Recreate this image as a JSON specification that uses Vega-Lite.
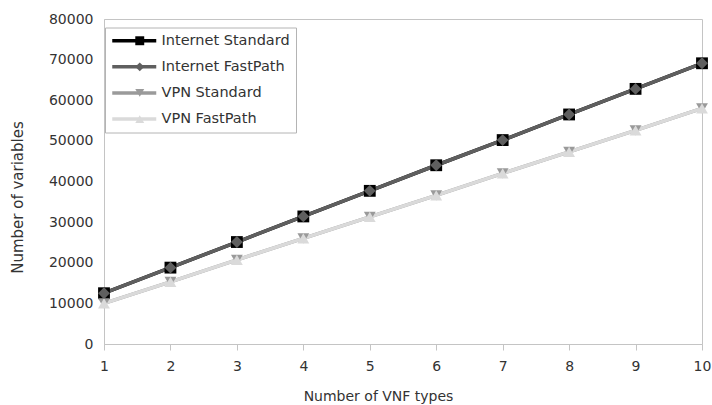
{
  "$schema": "https://vega.github.io/schema/vega-lite/v6.json",
  "width": 598,
  "height": 325,
  "autosize": {"type": "none"},
  "padding": {"left": 104, "top": 19, "right": 10, "bottom": 61},
  "background": "white",
  "config": {
    "font": "DejaVu Sans",
    "view": {"stroke": "#c4c4c4", "strokeWidth": 1}
  },
  "data": {
    "values": [
      {"series": "Internet Standard", "line": "Internet Standard", "vnf": 1, "vars": 12500},
      {"series": "Internet Standard", "line": "Internet Standard", "vnf": 2, "vars": 18800},
      {"series": "Internet Standard", "line": "Internet Standard", "vnf": 3, "vars": 25100},
      {"series": "Internet Standard", "line": "Internet Standard", "vnf": 4, "vars": 31400},
      {"series": "Internet Standard", "line": "Internet Standard", "vnf": 5, "vars": 37700},
      {"series": "Internet Standard", "line": "Internet Standard", "vnf": 6, "vars": 44000},
      {"series": "Internet Standard", "line": "Internet Standard", "vnf": 7, "vars": 50200},
      {"series": "Internet Standard", "line": "Internet Standard", "vnf": 8, "vars": 56500},
      {"series": "Internet Standard", "line": "Internet Standard", "vnf": 9, "vars": 62800},
      {"series": "Internet Standard", "line": "Internet Standard", "vnf": 10, "vars": 69100},
      {"series": "VPN Standard", "line": "VPN Standard", "vnf": 1, "vars": 10000},
      {"series": "VPN Standard", "line": "VPN Standard", "vnf": 2, "vars": 15300},
      {"series": "VPN Standard", "line": "VPN Standard", "vnf": 3, "vars": 20700},
      {"series": "VPN Standard", "line": "VPN Standard", "vnf": 4, "vars": 26000},
      {"series": "VPN Standard", "line": "VPN Standard", "vnf": 5, "vars": 31300},
      {"series": "VPN Standard", "line": "VPN Standard", "vnf": 6, "vars": 36600},
      {"series": "VPN Standard", "line": "VPN Standard", "vnf": 7, "vars": 42000},
      {"series": "VPN Standard", "line": "VPN Standard", "vnf": 8, "vars": 47300},
      {"series": "VPN Standard", "line": "VPN Standard", "vnf": 9, "vars": 52600},
      {"series": "VPN Standard", "line": "VPN Standard", "vnf": 10, "vars": 58000},
      {"series": "Internet FastPath", "line": "Internet FastPath", "vnf": 1, "vars": 12500},
      {"series": "Internet FastPath", "line": "Internet FastPath", "vnf": 2, "vars": 18800},
      {"series": "Internet FastPath", "line": "Internet FastPath", "vnf": 3, "vars": 25100},
      {"series": "Internet FastPath", "line": "Internet FastPath", "vnf": 4, "vars": 31400},
      {"series": "Internet FastPath", "line": "Internet FastPath", "vnf": 5, "vars": 37700},
      {"series": "Internet FastPath", "line": "Internet FastPath", "vnf": 6, "vars": 44000},
      {"series": "Internet FastPath", "line": "Internet FastPath", "vnf": 7, "vars": 50200},
      {"series": "Internet FastPath", "line": "Internet FastPath", "vnf": 8, "vars": 56500},
      {"series": "Internet FastPath", "line": "Internet FastPath", "vnf": 9, "vars": 62800},
      {"series": "Internet FastPath", "line": "Internet FastPath", "vnf": 10, "vars": 69100},
      {"series": "VPN FastPath", "line": "VPN FastPath", "vnf": 1, "vars": 10000},
      {"series": "VPN FastPath", "line": "VPN FastPath", "vnf": 2, "vars": 15300},
      {"series": "VPN FastPath", "line": "VPN FastPath", "vnf": 3, "vars": 20700},
      {"series": "VPN FastPath", "line": "VPN FastPath", "vnf": 4, "vars": 26000},
      {"series": "VPN FastPath", "line": "VPN FastPath", "vnf": 5, "vars": 31300},
      {"series": "VPN FastPath", "line": "VPN FastPath", "vnf": 6, "vars": 36600},
      {"series": "VPN FastPath", "line": "VPN FastPath", "vnf": 7, "vars": 42000},
      {"series": "VPN FastPath", "line": "VPN FastPath", "vnf": 8, "vars": 47300},
      {"series": "VPN FastPath", "line": "VPN FastPath", "vnf": 9, "vars": 52600},
      {"series": "VPN FastPath", "line": "VPN FastPath", "vnf": 10, "vars": 58000}
    ]
  },
  "encoding": {
    "x": {
      "field": "vnf",
      "type": "quantitative",
      "scale": {"domain": [1, 10], "nice": false, "zero": false},
      "axis": {
        "values": [1, 2, 3, 4, 5, 6, 7, 8, 9, 10],
        "format": "d",
        "grid": false,
        "labelFlush": false,
        "domainColor": "#c4c4c4",
        "tickColor": "#c4c4c4",
        "tickSize": 6,
        "labelPadding": 9,
        "labelFont": "DejaVu Sans",
        "labelFontSize": 14,
        "labelColor": "#333333",
        "title": "Number of VNF types",
        "titleFont": "DejaVu Sans",
        "titleFontSize": 14,
        "titleFontWeight": "normal",
        "titleColor": "#333333",
        "titleX": 274,
        "titleY": 52,
        "titleAlign": "center",
        "titleBaseline": "middle"
      }
    },
    "y": {
      "field": "vars",
      "type": "quantitative",
      "scale": {"domain": [0, 80000], "nice": false},
      "axis": {
        "values": [0, 10000, 20000, 30000, 40000, 50000, 60000, 70000, 80000],
        "format": "d",
        "grid": false,
        "ticks": false,
        "labelFlush": false,
        "domainColor": "#c4c4c4",
        "labelPadding": 11,
        "labelFont": "DejaVu Sans",
        "labelFontSize": 14,
        "labelColor": "#333333",
        "title": "Number of variables",
        "titleFont": "DejaVu Sans",
        "titleFontSize": 15,
        "titleFontWeight": "normal",
        "titleColor": "#333333",
        "titleX": -87,
        "titleY": 178,
        "titleAngle": 270,
        "titleAlign": "center",
        "titleBaseline": "middle"
      }
    }
  },
  "layer": [
    {
      "mark": {"type": "line", "strokeWidth": 3.5},
      "encoding": {
        "stroke": {
          "field": "line",
          "type": "nominal",
          "sort": ["Internet Standard", "Internet FastPath", "VPN Standard", "VPN FastPath"],
          "scale": {
            "range": ["#000000", "#5f5f5f", "#9a9a9a", "#dadada"]
          },
          "legend": {
            "orient": "none",
            "legendX": 1,
            "legendY": 8.5,
            "direction": "vertical",
            "title": null,
            "padding": 6,
            "strokeColor": "#b4b4b4",
            "symbolType": "M-1.2,0H7.6",
            "symbolSize": 100,
            "symbolStrokeWidth": 3.5,
            "labelOffset": 36,
            "labelExpr": "datum.label + '\u2002'",
            "labelFont": "DejaVu Sans",
            "labelFontSize": 14.5,
            "labelColor": "#333333",
            "rowPadding": 10.1
          }
        }
      }
    },
    {
      "mark": {"type": "point", "filled": true, "opacity": 1, "size": 140},
      "encoding": {
        "fill": {
          "field": "series",
          "type": "nominal",
          "scale": {
            "domain": ["Internet Standard", "Internet FastPath", "VPN Standard", "VPN FastPath"],
            "range": ["#000000", "#5f5f5f", "#9a9a9a", "#dadada"]
          },
          "legend": {
            "orient": "none",
            "legendX": 22.5,
            "legendY": 8.5,
            "direction": "vertical",
            "title": null,
            "padding": 6,
            "zindex": 2,
            "symbolSize": 80,
            "symbolStrokeWidth": 1.5,
            "labelOffset": 36,
            "labelExpr": "''",
            "labelFont": "DejaVu Sans",
            "labelFontSize": 14.5,
            "rowPadding": 10.1
          }
        },
        "shape": {
          "field": "series",
          "type": "nominal",
          "scale": {
            "domain": ["Internet Standard", "Internet FastPath", "VPN Standard", "VPN FastPath"],
            "range": ["square", "diamond", "triangle-down", "triangle-up"]
          },
          "legend": {
            "orient": "none",
            "legendX": 22.5,
            "legendY": 8.5,
            "direction": "vertical",
            "title": null,
            "padding": 6,
            "zindex": 2,
            "symbolSize": 80,
            "symbolStrokeWidth": 1.5,
            "labelOffset": 36,
            "labelExpr": "''",
            "labelFont": "DejaVu Sans",
            "labelFontSize": 14.5,
            "rowPadding": 10.1
          }
        }
      }
    }
  ]
}
